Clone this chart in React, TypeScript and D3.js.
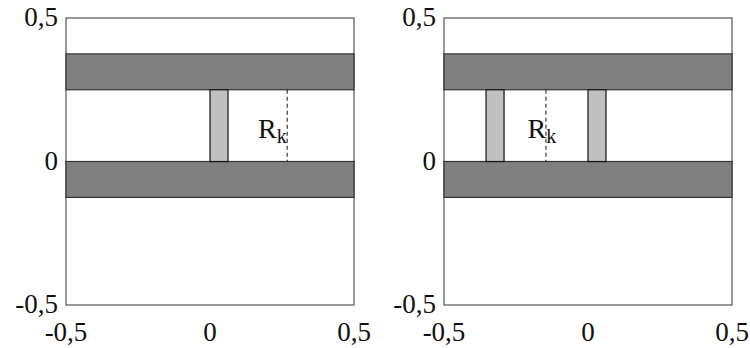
import * as d3 from "d3";

// plot ranges and tick labels
const ticks = [-0.5, 0, 0.5];
const tickLabels = ["-0,5", "0", "0,5"];

// dark horizontal bands (y0, y1)
const bandY0 = [0.25, -0.125];
const bandY1 = [0.375, 0];

// light vertical slabs, left edge of each, per panel
const leftSlabs = [0];
const rightSlabs = [-0.354, 0];
const slabWidth = 0.0625;

// dashed R_k marker and its label, per panel
const dashX = [0.268, -0.146];
const labelX = [0.167, -0.21];
const labelY = 0.083;

const panelLeft = [66, 444];
const panelSize = { width: 288, height: 287 };
const top = 18;
const font = "'Liberation Serif', 'Times New Roman', serif";

function Panel({ idx, slabs }: { idx: number; slabs: number[] }) {
  const x = d3
    .scaleLinear()
    .domain([-0.5, 0.5])
    .range([panelLeft[idx], panelLeft[idx] + panelSize.width]);
  const y = d3
    .scaleLinear()
    .domain([-0.5, 0.5])
    .range([top + panelSize.height, top]);

  return (
    <g>
      <rect
        x={x(-0.5)}
        y={y(0.5)}
        width={x(0.5) - x(-0.5)}
        height={y(-0.5) - y(0.5)}
        fill="white"
        stroke="#555"
        strokeWidth={1.2}
      />
      {bandY0.map((b, i) => (
        <rect
          key={i}
          x={x(-0.5)}
          y={y(bandY1[i])}
          width={x(0.5) - x(-0.5)}
          height={y(b) - y(bandY1[i])}
          fill="#808080"
          stroke="#333"
          strokeWidth={1.2}
        />
      ))}
      {slabs.map((s, i) => (
        <rect
          key={i}
          x={x(s)}
          y={y(bandY0[0])}
          width={x(s + slabWidth) - x(s)}
          height={y(0) - y(bandY0[0])}
          fill="#c0c0c0"
          stroke="#111"
          strokeWidth={1.2}
        />
      ))}
      <line
        x1={x(dashX[idx])}
        x2={x(dashX[idx])}
        y1={y(bandY0[0])}
        y2={y(0)}
        stroke="#111"
        strokeWidth={1}
        strokeDasharray="4,3"
      />
      <text
        x={x(labelX[idx])}
        y={y(labelY)}
        fontFamily={font}
        fontSize={28}
        fill="#111"
      >
        R
        <tspan fontSize={20} dy={5}>
          k
        </tspan>
      </text>
      {ticks.map((t, i) => (
        <text
          key={"y" + i}
          x={x(-0.5) - 8}
          y={y(t) + 8}
          textAnchor="end"
          fontFamily={font}
          fontSize={27}
          fill="#111"
        >
          {tickLabels[i]}
        </text>
      ))}
      {ticks.map((t, i) => (
        <text
          key={"x" + i}
          x={x(t)}
          y={341}
          textAnchor="middle"
          fontFamily={font}
          fontSize={27}
          fill="#111"
        >
          {tickLabels[i]}
        </text>
      ))}
    </g>
  );
}

export default function App() {
  return (
    <svg
      width={750}
      height={348}
      style={{ position: "absolute", left: 0, top: 0, background: "white" }}
    >
      <Panel idx={0} slabs={leftSlabs} />
      <Panel idx={1} slabs={rightSlabs} />
    </svg>
  );
}
